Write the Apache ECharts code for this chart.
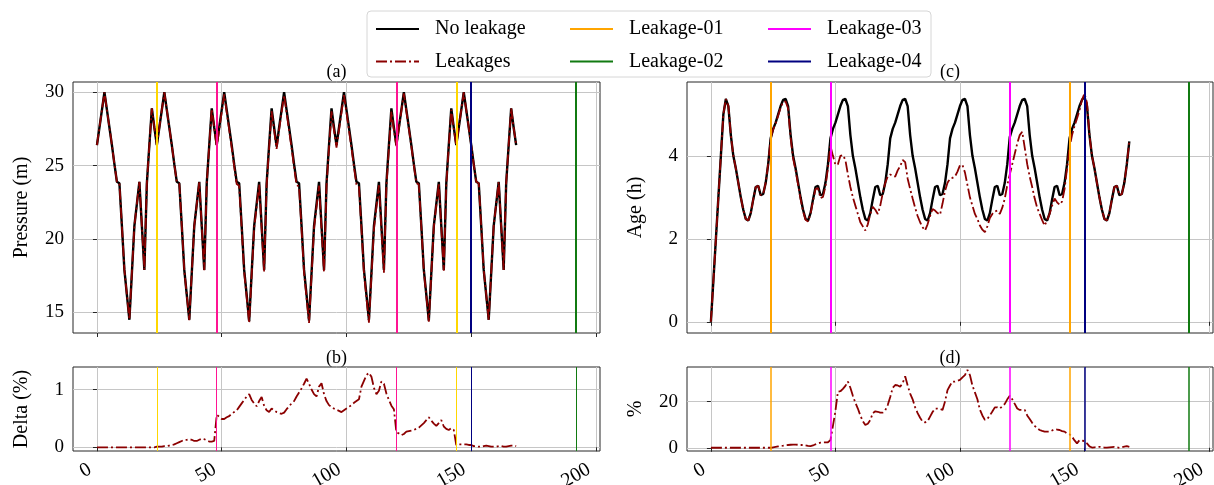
<!DOCTYPE html>
<html>
<head>
<meta charset="utf-8">
<script src="https://cdn.jsdelivr.net/npm/echarts@6/dist/echarts.min.js"></script>
<style>
  html, body { margin: 0; padding: 0; background: #fff; }
  #chart { width: 1214px; height: 485px; }
</style>
</head>
<body>
<div id="chart"></div>
<script>
// Simulation time (hours), one sample per hour over one week
const hours = Array.from({ length: 169 }, (_, i) => i);

// Pressure at the monitored node (m)
const pressureNoLeak = [
  26.4,27.6,28.8,30.0,28.8,27.6,26.4,25.1,23.9,23.8,20.9,17.9,16.2,14.5,17.7,20.9,22.4,23.9,20.9,17.9,23.8,26.4,28.9,27.6,
  26.4,27.6,28.8,30.0,28.8,27.6,26.4,25.1,23.9,23.8,20.9,17.9,16.2,14.5,17.7,20.9,22.4,23.9,20.9,17.9,23.8,26.4,28.9,27.6,
  26.4,27.6,28.8,30.0,28.8,27.6,26.4,25.1,23.9,23.8,20.9,17.9,16.2,14.4,17.7,20.9,22.4,23.9,20.9,17.9,23.8,26.4,28.9,27.6,
  26.3,27.6,28.8,30.0,28.8,27.6,26.4,25.1,23.9,23.8,20.9,17.9,16.2,14.45,17.7,20.9,22.4,23.9,20.9,17.9,23.8,26.4,28.9,27.6,
  26.4,27.6,28.8,30.0,28.8,27.6,26.4,25.1,23.9,23.8,20.9,17.9,16.2,14.5,17.7,20.9,22.4,23.9,20.9,17.9,23.8,26.4,28.9,27.6,
  26.4,27.6,28.8,30.0,28.8,27.6,26.4,25.1,23.9,23.8,20.9,17.9,16.2,14.45,17.7,20.9,22.4,23.9,20.9,17.9,23.8,26.4,28.9,27.6,
  26.4,27.6,28.8,30.0,28.8,27.6,26.4,25.1,23.9,23.8,20.9,17.9,16.2,14.5,17.7,20.9,22.4,23.9,20.9,17.9,23.8,26.4,28.9,27.6,
  26.4
];
const pressureLeak = [
  26.4,27.6,28.8,30.0,28.8,27.6,26.4,25.1,23.9,23.8,20.9,17.9,16.2,14.5,17.7,20.9,22.4,23.9,20.9,17.9,23.8,26.4,28.9,27.6,
  26.40,27.60,28.80,29.99,28.79,27.59,26.39,25.09,23.88,23.78,20.88,17.88,16.18,14.48,17.68,20.88,22.38,23.87,20.87,17.87,23.77,26.37,28.87,27.57,
  26.25,27.45,28.66,29.85,28.65,27.45,26.25,24.95,23.75,23.63,20.74,17.75,16.06,14.27,17.55,20.74,22.24,23.71,20.72,17.77,23.65,26.24,28.71,27.42,
  26.14,27.44,28.63,29.82,28.61,27.40,26.20,24.90,23.69,23.57,20.69,17.70,16.01,14.29,17.52,20.71,22.20,23.65,20.67,17.74,23.61,26.21,28.70,27.42,
  26.23,27.43,28.62,29.81,28.61,27.41,26.21,24.91,23.71,23.60,20.68,17.69,16.00,14.31,17.48,20.68,22.19,23.67,20.66,17.70,23.58,26.18,28.69,27.42,
  26.33,27.53,28.74,29.93,28.72,27.52,26.32,25.02,23.82,23.72,20.82,17.82,16.12,14.37,17.62,20.81,22.32,23.80,20.80,17.84,23.72,26.32,28.80,27.52,
  26.39,27.59,28.79,29.99,28.79,27.59,26.39,25.10,23.90,23.80,20.9,17.9,16.2,14.5,17.7,20.9,22.4,23.9,20.9,17.9,23.8,26.4,28.9,27.6,
  26.4
];

// Relative pressure drop caused by the leakages (%)
const pressureDelta = [
  0,0,0,0,0,0,0,0,0,0,0,0,0,0,0,0,0,0,0,0,0,0,0,0,
  0.01,0.01,0.01,0.02,0.02,0.03,0.04,0.05,0.07,0.09,0.11,0.13,0.13,0.14,0.13,0.11,0.11,0.13,0.15,0.14,0.12,0.10,0.10,0.11,
  0.56,0.53,0.49,0.49,0.52,0.54,0.58,0.61,0.64,0.70,0.76,0.82,0.88,0.92,0.82,0.76,0.71,0.80,0.87,0.72,0.64,0.61,0.67,0.64,
  0.61,0.59,0.58,0.60,0.66,0.71,0.76,0.80,0.88,0.95,1.02,1.10,1.19,1.10,1.00,0.92,0.88,1.05,1.11,0.92,0.80,0.73,0.70,0.67,
  0.65,0.63,0.61,0.64,0.67,0.70,0.73,0.77,0.80,0.83,1.05,1.15,1.25,1.29,1.22,1.03,0.92,0.98,1.14,1.10,0.93,0.82,0.72,0.66,
  0.26,0.24,0.21,0.23,0.27,0.28,0.29,0.30,0.32,0.34,0.38,0.42,0.47,0.52,0.46,0.41,0.37,0.42,0.47,0.36,0.32,0.30,0.33,0.30,
  0.04,0.05,0.05,0.05,0.05,0.04,0.04,0.02,0.02,0.01,0.01,0.02,0.03,0.02,0.01,0.01,0.01,0.02,0.02,0.01,0.01,0.02,0.03,0.03,
  0.02
];

// Water age at the monitored node (h)
const ageNoLeak = [
  0,1.0,2.0,3.0,4.0,5.0,5.37,5.2,4.5,4.0,3.7,3.35,3.0,2.7,2.48,2.44,2.62,2.95,3.25,3.28,3.05,3.08,3.35,3.8,
  4.42,4.65,4.8,5.0,5.2,5.35,5.37,5.2,4.5,4.0,3.7,3.35,3.0,2.7,2.48,2.44,2.62,2.95,3.25,3.28,3.05,3.08,3.35,3.8,
  4.42,4.65,4.8,5.0,5.2,5.35,5.37,5.2,4.5,4.0,3.7,3.35,3.0,2.7,2.48,2.44,2.62,2.95,3.25,3.28,3.05,3.08,3.35,3.8,
  4.42,4.65,4.8,5.0,5.2,5.35,5.37,5.2,4.5,4.0,3.7,3.35,3.0,2.7,2.48,2.44,2.62,2.95,3.25,3.28,3.05,3.08,3.35,3.8,
  4.42,4.65,4.8,5.0,5.2,5.35,5.37,5.2,4.5,4.0,3.7,3.35,3.0,2.7,2.48,2.44,2.62,2.95,3.25,3.28,3.05,3.08,3.35,3.8,
  4.45,4.65,4.8,5.0,5.2,5.35,5.37,5.2,4.5,4.0,3.7,3.35,3.0,2.7,2.48,2.44,2.62,2.95,3.25,3.28,3.05,3.08,3.35,3.8,
  4.42,4.65,4.8,5.0,5.2,5.35,5.42,5.2,4.5,4.0,3.7,3.35,3.0,2.7,2.48,2.44,2.62,2.95,3.25,3.28,3.05,3.08,3.35,3.8,
  4.35
];
const ageLeak = [
  0,1.0,2.0,3.0,4.0,5.0,5.37,5.2,4.5,4.0,3.7,3.35,3.0,2.7,2.48,2.44,2.62,2.95,3.25,3.28,3.05,3.08,3.35,3.8,
  4.42,4.64,4.78,4.97,5.16,5.30,5.31,5.14,4.44,3.94,3.65,3.31,2.96,2.67,2.46,2.42,2.60,2.92,3.20,3.22,2.98,3.01,3.27,3.71,
  4.24,4.0,3.78,3.8,4.0,4.02,3.9,3.55,3.25,3.0,2.8,2.6,2.4,2.3,2.2,2.35,2.6,2.77,2.7,2.6,2.8,3.1,3.35,3.5,
  3.55,3.52,3.5,3.65,3.75,3.9,3.85,3.45,3.2,2.97,2.75,2.55,2.4,2.28,2.2,2.35,2.55,2.72,2.68,2.62,2.58,2.85,3.15,3.35,
  3.45,3.47,3.5,3.62,3.77,3.78,3.6,3.3,3.0,2.8,2.6,2.48,2.32,2.22,2.16,2.3,2.5,2.6,2.66,2.68,2.6,2.75,2.97,3.3,
  3.55,3.8,4.05,4.3,4.5,4.58,4.2,3.8,3.5,3.25,2.97,2.75,2.6,2.45,2.32,2.45,2.6,2.8,2.97,2.88,2.82,2.9,3.2,3.7,
  4.2,4.5,4.72,4.9,5.1,5.35,5.5,5.28,4.5,4.0,3.7,3.35,3.0,2.7,2.48,2.44,2.62,2.95,3.25,3.28,3.05,3.08,3.35,3.8,
  4.35
];

// Relative change of water age caused by the leakages (%)
const ageDelta = [
  0,0,0,0,0,0,0,0,0,0,0,0,0,0,0,0,0,0,0,0,0,0,0,0,
  0,0.2,0.4,0.6,0.8,0.9,1.1,1.2,1.3,1.4,1.4,1.3,1.2,1.2,1.0,0.8,0.7,1.0,1.5,1.9,2.2,2.3,2.3,2.4,
  3.3,9.5,16.0,24.3,24.5,25.5,26.8,28.7,26.0,22.5,19.5,17.0,14.0,11.5,9.9,10.4,12.0,15.0,15.8,15.6,15.2,15.2,16.2,18.5,
  22.0,26.0,27.2,27.0,26.5,28.0,31.0,27.0,23.5,21.0,17.5,15.0,13.0,11.3,11.0,11.5,13.5,15.5,17.0,17.0,16.8,16.4,20.0,25.0,
  27.0,28.7,28.7,29.0,29.4,30.5,31.5,33.7,31.5,27.0,24.0,21.0,16.5,14.0,12.1,12.5,14.0,15.7,17.5,17.5,17.0,18.0,19.0,21.0,
  22.5,21.0,19.0,17.0,16.4,16.4,16.4,14.0,12.5,10.8,9.5,8.5,7.7,7.3,7.0,7.0,7.0,7.5,8.0,7.9,7.7,7.2,7.0,6.2,
  5.8,4.8,3.2,1.9,3.3,3.1,2.9,1.9,0.6,0.1,0.2,0.3,0.4,0.3,0.1,0.1,0.2,0.3,0.4,0.2,0.0,0.2,0.5,0.7,
  0.4
];

// Hours at which each leakage event starts
const leakage01Hours = [24, 144];
const leakage02Hours = [192];
const leakage03Hours = [48, 120];
const leakage04Hours = [150];

const xTicks = [0, 50, 100, 150, 200];
const pressureTicks = [15, 20, 25, 30];
const deltaTicks = [0, 1];
const ageTicks = [0, 2, 4];
const ageDeltaTicks = [0, 20];

const FONT = "'Liberation Serif', 'DejaVu Serif', serif";
const GRID_COLOR = '#c6c6c6';
const LEAK_DASH = [11, 3, 2, 3];

const pairs = (ys) => hours.map((h, i) => [h, ys[i]]);

const grids = [
  { left: 73, top: 82, width: 527, height: 251 },   // (a)
  { left: 73, top: 367, width: 527, height: 84 },   // (b)
  { left: 687, top: 82, width: 526, height: 251 },  // (c)
  { left: 687, top: 367, width: 526, height: 84 }   // (d)
].map(g => Object.assign(g, {
  show: true, borderColor: '#262626', borderWidth: 1, backgroundColor: 'transparent',
  containLabel: false, outerBoundsMode: 'none'
}));

function xAxisFor(gridIndex, showLabels) {
  return {
    type: 'value', gridIndex, min: -9.6, max: 201.6, splitNumber: 4,
    axisLine: { show: false },
    axisTick: { show: true, inside: false, length: 4, customValues: xTicks, lineStyle: { color: '#262626', width: 1 } },
    axisLabel: {
      show: showLabels, customValues: xTicks, rotate: 30, margin: 13,
      padding: [0, 8, 0, 0],
      fontSize: 20, fontFamily: FONT, color: '#000'
    },
    splitLine: { show: true, lineStyle: { color: GRID_COLOR, width: 1 } }
  };
}

function yAxisFor(gridIndex, min, max, splitNumber, ticks, name) {
  return {
    type: 'value', gridIndex, min, max, splitNumber,
    name, nameLocation: 'middle', nameRotate: 90, nameGap: 41,
    nameTextStyle: { fontSize: 20, fontFamily: FONT, color: '#000' },
    axisLine: { show: false },
    axisTick: { show: true, inside: false, length: 4, customValues: ticks, lineStyle: { color: '#262626', width: 1 } },
    axisLabel: { customValues: ticks, margin: 9, fontSize: 19, fontFamily: FONT, color: '#000' },
    splitLine: { show: true, lineStyle: { color: GRID_COLOR, width: 1 } }
  };
}

// Vertical event markers drawn in one panel
function leakageMarkers(axisIndex, colors, width) {
  const groups = [
    ['Leakage-01', leakage01Hours, colors[0]],
    ['Leakage-02', leakage02Hours, colors[1]],
    ['Leakage-03', leakage03Hours, colors[2]],
    ['Leakage-04', leakage04Hours, colors[3]]
  ];
  return groups.map(([name, hs, color]) => ({
    name, type: 'line', xAxisIndex: axisIndex, yAxisIndex: axisIndex,
    data: [], symbol: 'none', z: 5, color,
    lineStyle: { color, width: 2, type: 'solid' },
    markLine: {
      silent: true, symbol: ['none', 'none'], animation: false,
      label: { show: false },
      lineStyle: { color, width, type: 'solid' },
      emphasis: { disabled: true },
      data: hs.map(h => ({ xAxis: h }))
    }
  }));
}

const legendColors = ['#ffa500', '#117a11', '#ff00ff', '#000080'];
const pressureColors = ['#ffd700', '#117a11', '#ff1493', '#000080'];

function noLeakSeries(axisIndex, ys) {
  return {
    name: 'No leakage', type: 'line', xAxisIndex: axisIndex, yAxisIndex: axisIndex,
    data: pairs(ys), symbol: 'none', z: 2, color: '#000',
    lineStyle: { color: '#000', width: 2.4 }
  };
}
function leakSeries(axisIndex, ys) {
  return {
    name: 'Leakages', type: 'line', xAxisIndex: axisIndex, yAxisIndex: axisIndex,
    data: pairs(ys), symbol: 'none', z: 3, color: '#8b0000',
    lineStyle: { color: '#8b0000', width: 1.8, type: LEAK_DASH }
  };
}

const series = [
  ...leakageMarkers(2, legendColors, 2),
  noLeakSeries(2, ageNoLeak),
  leakSeries(2, ageLeak),
  ...leakageMarkers(3, legendColors, 1.5),
  leakSeries(3, ageDelta),
  ...leakageMarkers(0, pressureColors, 2),
  noLeakSeries(0, pressureNoLeak),
  leakSeries(0, pressureLeak),
  ...leakageMarkers(1, pressureColors, 1),
  leakSeries(1, pressureDelta)
];

const legendBase = {
  orient: 'vertical', top: 17, padding: 0, itemWidth: 43, itemHeight: 14, itemGap: 8.5,
  selectedMode: false,
  itemStyle: { opacity: 0 },
  lineStyle: { width: 2 },
  textStyle: { fontSize: 20, fontFamily: FONT, color: '#000', lineHeight: 24, padding: [0, 0, 0, 11] }
};

const titleText = (x, y, text) => ({
  type: 'text', x, y, z: 10,
  style: { text, fill: '#000', font: `18px ${FONT}`, align: 'center', verticalAlign: 'middle', textAlign: 'center', textVerticalAlign: 'middle' }
});

const option = {
  animation: false,
  backgroundColor: '#fff',
  grid: grids,
  xAxis: [xAxisFor(0, false), xAxisFor(1, true), xAxisFor(2, false), xAxisFor(3, true)],
  yAxis: [
    yAxisFor(0, 13.6, 30.7, 4, pressureTicks, 'Pressure (m)'),
    yAxisFor(1, -0.064, 1.39, 2, deltaTicks, 'Delta (%)'),
    yAxisFor(2, -0.27, 5.78, 3, ageTicks, 'Age (h)'),
    yAxisFor(3, -1.4, 35, 2, ageDeltaTicks, '%')
  ],
  legend: [
    Object.assign({}, legendBase, { left: 375, data: ['No leakage', 'Leakages'] }),
    Object.assign({}, legendBase, { left: 569, data: ['Leakage-01', 'Leakage-02'] }),
    Object.assign({}, legendBase, { left: 767, data: ['Leakage-03', 'Leakage-04'] })
  ],
  graphic: [
    {
      type: 'rect', z: 0,
      shape: { x: 367, y: 11, width: 564, height: 66, r: 4 },
      style: { fill: '#fff', stroke: '#d6d6d6', lineWidth: 1 }
    },
    titleText(336.5, 72, '(a)'),
    titleText(336.5, 358, '(b)'),
    titleText(950, 72, '(c)'),
    titleText(950, 358, '(d)')
  ],
  series
};

const chart = echarts.init(document.getElementById('chart'), null, { renderer: 'canvas' });
chart.setOption(option);
</script>
</body>
</html>
